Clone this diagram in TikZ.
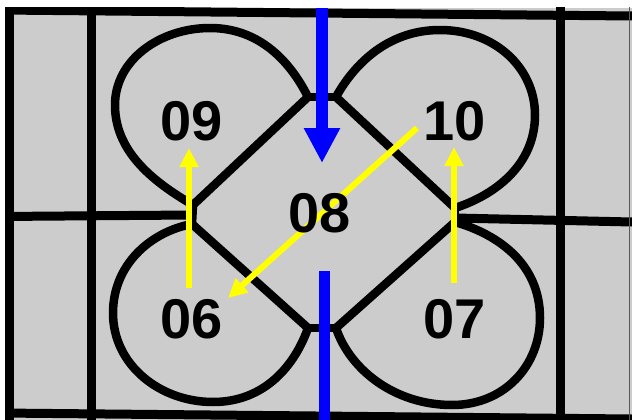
\documentclass[tikz,border=0pt]{standalone}
\usepackage{fontspec}
\setmainfont{Liberation Sans}
\usetikzlibrary{arrows.meta}
\definecolor{bg}{RGB}{204,204,204}
\definecolor{ylw}{RGB}{255,255,0}
\definecolor{blu}{RGB}{0,0,255}
\begin{document}
\begin{tikzpicture}[x=1pt,y=-1pt,
  gridline/.style={line width=9pt},
  knot/.style={line width=8.5pt, line join=round, line cap=round},
  lbl/.style={font=\fontsize{56}{56}\selectfont\bfseries, inner sep=0pt},
  bluearrow/.style={blu, line width=12pt, -{Triangle[length=35pt,width=34pt]}},
  blueline/.style={blu, line width=11pt},
  yarrow/.style={ylw, line width=6pt, -{Triangle[length=19pt,width=18pt]}}
]
\useasboundingbox (0,0) rectangle (632,420);
\fill[white] (0,0) rectangle (632,420);
\fill[bg] (5,8) rectangle (632,420);
% grid
\begin{scope}
\clip (5,8) rectangle (632,420);
\draw[gridline] (0,10) -- (632,16);
\draw[gridline] (9.5,0) -- (9.5,420);
\draw[gridline] (91.5,0) -- (91.5,420);
\draw[gridline] (560,0) -- (560,420);
\draw[gridline] (0,216.5) -- (193,215);
\draw[gridline] (455,218) -- (632,222);
\draw[gridline] (0,413) -- (632,419);
\draw[black!65, line width=1.5pt] (629.5,0) -- (629.5,420);
\end{scope}
% knot coordinates
\coordinate (tl) at (308,97);
\coordinate (tr) at (336,97);
\coordinate (lt) at (193,205);
\coordinate (lb) at (192,224);
\coordinate (rt) at (455,208);
\coordinate (rb) at (455,222);
\coordinate (bl) at (308,328);
\coordinate (br) at (336,328);
% diamond edges and bars
\draw[knot] (tl) -- (lt);
\draw[knot] (tr) -- (rt);
\draw[knot] (lb) -- (bl);
\draw[knot] (rb) -- (br);
\draw[knot] (tl) -- (tr);
\draw[knot] (lt) -- (lb);
\draw[knot] (rt) -- (rb);
\draw[knot] (bl) -- (br);
% lobes
\draw[knot] (tl) .. controls (292,65) and (262,28) .. (210,28)
  .. controls (160,28) and (115,60) .. (115,105)
  .. controls (115,150) and (150,180) .. (lt);
\draw[knot] (tr) .. controls (352,68) and (385,30) .. (440,30)
  .. controls (495,30) and (535,68) .. (535,115)
  .. controls (535,165) and (495,195) .. (rt);
\draw[knot] (lb) .. controls (150,232) and (113,265) .. (113,313)
  .. controls (113,365) and (160,402) .. (213,402)
  .. controls (265,402) and (295,365) .. (bl);
\draw[knot] (br) .. controls (350,370) and (395,405) .. (452,405)
  .. controls (505,405) and (540,365) .. (540,318)
  .. controls (540,265) and (500,235) .. (rb);
% yellow arrows
\coordinate (y1s) at (189,288);
\coordinate (y1e) at (189,148);
\coordinate (y2s) at (454,283);
\coordinate (y2e) at (454,147);
\coordinate (y3s) at (417,128);
\coordinate (y3e) at (228,298);
\draw[yarrow] (y1s) -- (y1e);
\draw[yarrow] (y2s) -- (y2e);
\draw[yarrow] (y3s) -- (y3e);
% blue
\coordinate (b1s) at (322,8);
\coordinate (b1e) at (322,163);
\coordinate (b2s) at (324,271);
\coordinate (b2e) at (324,420);
\draw[bluearrow] (b1s) -- (b1e);
\draw[blueline] (b2s) -- (b2e);
% labels
\node[lbl] (n09) at (192,121) {09};
\node[lbl] (n10) at (455,121) {10};
\node[lbl] (n08) at (320,213) {08};
\node[lbl] (n06) at (192,319) {06};
\node[lbl] (n07) at (455,319) {07};
\end{tikzpicture}
\end{document}
